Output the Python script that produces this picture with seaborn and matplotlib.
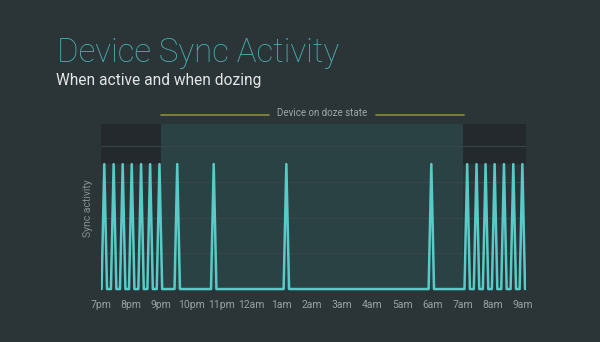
import numpy as np
import pandas as pd
import matplotlib
matplotlib.use("Agg")
import matplotlib.pyplot as plt
import seaborn as sns

# ---- data ----
hour_labels = ["7pm", "8pm", "9pm", "10pm", "11pm", "12am", "1am", "2am",
               "3am", "4am", "5am", "6am", "7am", "8am", "9am"]
# sync bursts, hours after 7pm
active_evening = [0.11, 0.42, 0.72, 1.02, 1.33, 1.63, 1.94]
doze_syncs = [2.53, 3.74, 6.15, 10.96]
active_morning = [12.15, 12.46, 12.76, 13.06, 13.37, 13.68, 13.98]
peak_level = 3.5
doze_start, doze_end = 2.0, 12.0

title = "Device Sync Activity"
subtitle = "When active and when dozing"
doze_label = "Device on doze state"
ylabel = "Sync activity"

# ---- build the activity trace ----
half_w = 0.09
peaks = active_evening + doze_syncs + active_morning
t, v = [], []
for p in peaks:
    t += [p - half_w, p, p + half_w]
    v += [0, peak_level, 0]
df = pd.DataFrame({"hour": t, "activity": v})

# ---- style ----
BG = "#2b3538"
sns.set_theme(style="dark", rc={"axes.facecolor": BG, "figure.facecolor": BG})
plt.rcParams["font.family"] = ["Roboto", "DejaVu Sans"]

fig = plt.figure(figsize=(6.0, 3.42), dpi=100)
ax = fig.add_axes([0.1683, 0.1444, 0.7083, 0.4927])
ax.set_xlim(0, 14.1)
ax.set_ylim(-0.1, 4.62)

# background zones
ax.axvspan(doze_start, doze_end, ymin=0, ymax=1, color="#2a4244", lw=0, zorder=0)
top = 4.62
ax.fill_between([0, doze_start], peak_level, top, color="#24292d", lw=0, zorder=0)
ax.fill_between([doze_end, 14.1], peak_level, top, color="#24292d", lw=0, zorder=0)
ax.fill_between([doze_start, doze_end], -0.1, 0, color=BG, lw=0, zorder=0)

for g in [1, 2, 3, 4]:
    ax.axhline(g, color="#384647", lw=0.8, zorder=1)

sns.lineplot(data=df, x="hour", y="activity", sort=False, estimator=None,
             color="#58cbc8", lw=1.8, ax=ax, zorder=3)

ax.set_xticks(range(len(hour_labels)))
ax.set_xticklabels(hour_labels, color="#97a1a3", fontsize=7.5)
ax.tick_params(axis="x", length=0, pad=5)
ax.set_yticks([])
ax.set_xlabel("")
ax.set_ylabel(ylabel, color="#87918f", fontsize=7.5, labelpad=6)
for s in ax.spines.values():
    s.set_visible(False)
ax.grid(False)

# doze annotation
ly = 4.87
ax.plot([doze_start, 5.57], [ly, ly], color="#8c8a3c", lw=1.2, clip_on=False)
ax.plot([9.12, doze_end + 0.04], [ly, ly], color="#8c8a3c", lw=1.2, clip_on=False)
ax.text(7.33, ly + 0.05, doze_label, ha="center", va="center",
        color="#9ea7a8", fontsize=7, clip_on=False)

fig.text(57 / 600, 1 - 62 / 342, title, color="#4aaeae", fontsize=23.8,
         fontweight="light", ha="left", va="baseline")
fig.text(56 / 600, 1 - 85 / 342, subtitle, color="#e3e6e6", fontsize=11.2,
         ha="left", va="baseline")

fig.savefig("out.png", dpi=100, facecolor=BG)
